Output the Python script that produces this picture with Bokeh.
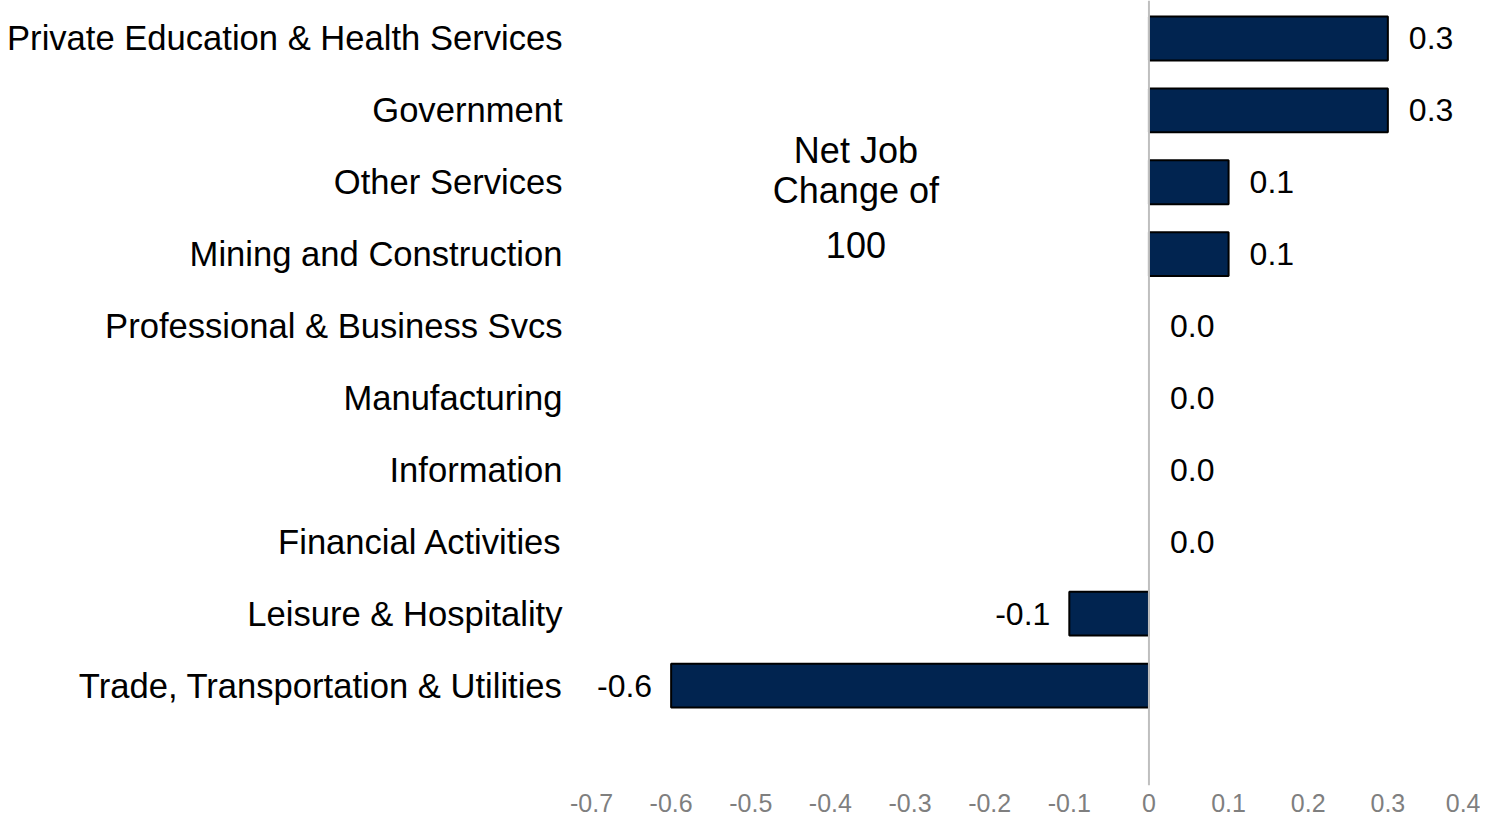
from bokeh.plotting import figure
from bokeh.models import ColumnDataSource, FixedTicker, Span, Label
from bokeh.core.properties import value
from bokeh.embed import file_html
from bokeh.resources import INLINE

categories = [
    "Private Education & Health Services",
    "Government",
    "Other Services",
    "Mining and Construction",
    "Professional & Business Svcs",
    "Manufacturing",
    "Information",
    "Financial Activities",
    "Leisure & Hospitality",
    "Trade, Transportation & Utilities",
]
values = [0.3, 0.3, 0.1, 0.1, 0.0, 0.0, 0.0, 0.0, -0.1, -0.6]
x_ticks = [-0.7, -0.6, -0.5, -0.4, -0.3, -0.2, -0.1, 0, 0.1, 0.2, 0.3, 0.4]
x_tick_labels = ["-0.7", "-0.6", "-0.5", "-0.4", "-0.3", "-0.2", "-0.1", "0",
                 "0.1", "0.2", "0.3", "0.4"]
annotation_lines = ["Net Job", "Change of", "100"]

FONT = "Liberation Sans"
n = len(categories)
ypos = [n - 1 - i for i in range(n)]

p = figure(width=1480, height=822, output_backend="svg", toolbar_location=None,
           x_range=(-0.7, 0.4), y_range=(-1.39, 9.528),
           min_border_left=591, min_border_right=13, min_border_top=0,
           min_border_bottom=37)
p.outline_line_color = None
p.xgrid.visible = False
p.ygrid.visible = False
p.background_fill_color = "white"
p.border_fill_color = "white"

src = ColumnDataSource(dict(
    y=ypos, v=values,
    la=[1.0 if v != 0 else 0.0 for v in values],
))
p.hbar(y="y", left=0, right="v", height=0.61, source=src,
       fill_color="#012450", line_color="#000000", line_width=2,
       line_alpha="la")

pos_src = ColumnDataSource(dict(
    y=[ypos[i] for i in range(n) if values[i] >= 0],
    x=[values[i] for i in range(n) if values[i] >= 0],
    t=[f"{values[i]:.1f}" for i in range(n) if values[i] >= 0],
))
neg_src = ColumnDataSource(dict(
    y=[ypos[i] for i in range(n) if values[i] < 0],
    x=[values[i] for i in range(n) if values[i] < 0],
    t=[f"{values[i]:.1f}" for i in range(n) if values[i] < 0],
))
p.text(x="x", y="y", text="t", source=pos_src, x_offset=21,
       text_align="left", text_baseline="middle",
       text_font=value(FONT), text_font_size="32px", text_color="#000000")
p.text(x="x", y="y", text="t", source=neg_src, x_offset=-19,
       text_align="right", text_baseline="middle",
       text_font=value(FONT), text_font_size="32px", text_color="#000000")

p.add_layout(Span(location=0, dimension="height", line_color="#BFBFBF",
                  line_width=2))

ann_y = [7.442, 6.886, 6.121]
for t, yy in zip(annotation_lines, ann_y):
    p.add_layout(Label(x=-0.368, y=yy, text=t, text_align="center",
                       text_baseline="middle", text_font=FONT,
                       text_font_size="36px", text_color="#000000"))

# y axis
p.yaxis.ticker = FixedTicker(ticks=ypos)
p.yaxis.major_label_overrides = {y: c for y, c in zip(ypos, categories)}
p.yaxis.axis_line_color = None
p.yaxis.major_tick_line_color = None
p.yaxis.minor_tick_line_color = None
p.yaxis.major_tick_out = 0
p.yaxis.major_tick_in = 0
p.yaxis.major_label_standoff = 29
p.yaxis.major_label_text_font = FONT
p.yaxis.major_label_text_font_size = "34.6px"
p.yaxis.major_label_text_color = "#000000"

# x axis
p.xaxis.ticker = FixedTicker(ticks=x_ticks)
p.xaxis.major_label_overrides = {t: l for t, l in zip(x_ticks, x_tick_labels)}
p.xaxis.axis_line_color = None
p.xaxis.major_tick_line_color = None
p.xaxis.minor_tick_line_color = None
p.xaxis.major_tick_out = 0
p.xaxis.major_tick_in = 0
p.xaxis.major_label_standoff = 8
p.xaxis.major_label_text_font = FONT
p.xaxis.major_label_text_font_size = "25px"
p.xaxis.major_label_text_color = "#7F7F7F"

open("out.html", "w").write(file_html(p, INLINE))
